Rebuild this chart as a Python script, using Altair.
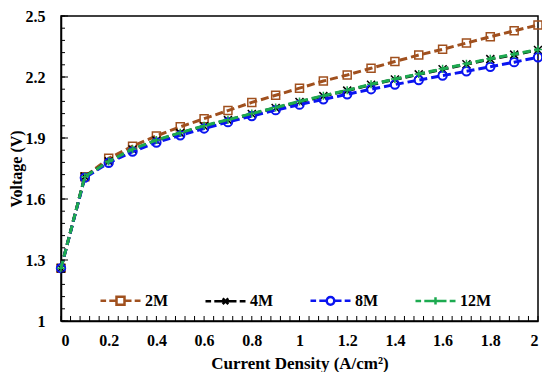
import altair as alt
import pandas as pd

# ---- data ----
current = [0.0, 0.1, 0.2, 0.3, 0.4, 0.5, 0.6, 0.7, 0.8, 0.9, 1.0,
           1.1, 1.2, 1.3, 1.4, 1.5, 1.6, 1.7, 1.8, 1.9, 2.0]
v_2m = [1.26, 1.71, 1.80, 1.86, 1.91, 1.955, 1.995, 2.035, 2.075, 2.11, 2.145,
        2.18, 2.21, 2.243, 2.276, 2.308, 2.336, 2.367, 2.398, 2.427, 2.456]
v_4m = [1.26, 1.71, 1.785, 1.843, 1.888, 1.924, 1.958, 1.988, 2.018, 2.048, 2.077,
        2.106, 2.133, 2.162, 2.188, 2.213, 2.238, 2.263, 2.288, 2.31, 2.333]
v_8m = [1.26, 1.705, 1.778, 1.833, 1.878, 1.913, 1.947, 1.978, 2.008, 2.037, 2.064,
        2.09, 2.115, 2.14, 2.163, 2.185, 2.207, 2.228, 2.25, 2.273, 2.297]
v_12m = [1.26, 1.71, 1.785, 1.845, 1.89, 1.926, 1.96, 1.99, 2.02, 2.05, 2.08,
         2.108, 2.135, 2.164, 2.19, 2.215, 2.24, 2.265, 2.29, 2.312, 2.335]

series = ["2M", "4M", "8M", "12M"]
colors = ["#A0501E", "#000000", "#0A14F0", "#1DAA50"]
values_by_series = [v_2m, v_4m, v_8m, v_12m]

x_major = [0, 0.2, 0.4, 0.6, 0.8, 1.0, 1.2, 1.4, 1.6, 1.8, 2.0]
y_major = [1.0, 1.3, 1.6, 1.9, 2.2, 2.5]
x_minor = [round(i * 0.04, 2) for i in range(51)]
y_minor = [round(1 + i * 0.06, 2) for i in range(26)]

rows = []
for s, vals in zip(series, values_by_series):
    for j, v in zip(current, vals):
        rows.append({"series": s, "j": j, "v": v})
df = pd.DataFrame(rows)

W, H = 477, 305
FONT = "Liberation Serif"
X0, X1, Y0, Y1 = 0, 2, 1, 2.5

point_shapes = {
    "2M": "square",
    "4M": "M-1,-1L1,1M-1,1L1,-1",
    "8M": "circle",
    "12M": "M-1,0L1,0M0,-1L0,1",
}
dash = "M-1,0H-0.72M-0.56,0H-0.25M0.25,0H0.55M0.71,0H1"
legend_paths = [
    dash + "M-0.2,-0.2H0.2V0.2H-0.2Z",
    dash + "M-0.25,0H0.25M-0.14,-0.14L0.14,0.14M-0.14,0.14L0.14,-0.14",
    dash + "M-0.25,0H-0.19M0.19,0H0.25M0.19,0A0.19,0.19,0,1,1,-0.19,0A0.19,0.19,0,1,1,0.19,0",
    dash + "M-0.25,0H0.25M0,-0.18V0.18",
]

xscale = alt.Scale(domain=[X0, X1], nice=False, zero=False)
yscale = alt.Scale(domain=[Y0, Y1], nice=False, zero=False)

axis_x = alt.Axis(orient="bottom", values=x_major, format=".1~f", ticks=False,
                  grid=False, labelPadding=11, labelFontSize=16,
                  title="Current Density (A/cm²)", titleFontSize=17,
                  titlePadding=7, domainColor="black", domainWidth=1.5)
axis_y = alt.Axis(orient="left", values=y_major, format=".1~f", ticks=False,
                  grid=False, labelPadding=16, labelFontSize=16,
                  title="Voltage (V)", titleFontSize=16,
                  titlePadding=1, domainColor="black", domainWidth=1.5)

layers = []
base = alt.Chart(df)
for i, s in enumerate(series):
    line = base.transform_filter(alt.datum.series == s).mark_line(
        strokeWidth=3, strokeDash=[8, 4], color=colors[i]
    ).encode(
        x=alt.X("j:Q", scale=xscale, axis=axis_x),
        y=alt.Y("v:Q", scale=yscale, axis=axis_y),
    )
    pts = base.transform_filter(alt.datum.series == s).mark_point(
        shape=point_shapes[s], filled=False, size=64 if s != "8M" else 70,
        strokeWidth=1.5 if s != "8M" else 2, opacity=1, color=colors[i]
    ).encode(
        x=alt.X("j:Q", scale=xscale, axis=axis_x),
        y=alt.Y("v:Q", scale=yscale, axis=axis_y),
    )
    layers += [line, pts]

# inward tick marks as one-sided line symbols anchored on the axis lines
xt_df = pd.DataFrame({"t": x_minor, "a": [Y0] * len(x_minor)})
ytm_df = pd.DataFrame({"t": y_minor, "a": [X0] * len(y_minor)})
ytM_df = pd.DataFrame({"t": y_major, "a": [X0] * len(y_major)})
layers.append(alt.Chart(xt_df).mark_point(
    shape="M0,0V-1", size=100, filled=False, color="black", strokeWidth=1, opacity=1
).encode(
    x=alt.X("t:Q", scale=xscale, axis=axis_x),
    y=alt.Y("a:Q", scale=yscale, axis=axis_y)))
layers.append(alt.Chart(ytm_df).mark_point(
    shape="M0,0H1", size=64, filled=False, color="black", strokeWidth=1, opacity=1
).encode(
    y=alt.Y("t:Q", scale=yscale, axis=axis_y),
    x=alt.X("a:Q", scale=xscale, axis=axis_x)))
layers.append(alt.Chart(ytM_df).mark_point(
    shape="M0,0H1", size=196, filled=False, color="black", strokeWidth=1, opacity=1
).encode(
    y=alt.Y("t:Q", scale=yscale, axis=axis_y),
    x=alt.X("a:Q", scale=xscale, axis=axis_x)))

leg = alt.Legend(title=None, orient="none", legendX=38, legendY=263,
                 direction="horizontal", columns=4, columnPadding=31,
                 symbolSize=1600, symbolStrokeWidth=2.5,
                 labelFont=FONT, labelFontSize=16,
                 labelFontWeight="bold", labelColor="black",
                 labelOffset=3, padding=0)

legend_layer = base.mark_point(filled=False, opacity=0).encode(
    x=alt.X("j:Q", scale=xscale, axis=axis_x),
    y=alt.Y("v:Q", scale=yscale, axis=axis_y),
    color=alt.Color("series:N", scale=alt.Scale(domain=series, range=colors), legend=leg),
    shape=alt.Shape("series:N", scale=alt.Scale(domain=series, range=legend_paths), legend=leg),
)
layers.append(legend_layer)

chart = alt.layer(*layers).properties(
    width=W, height=H,
    autosize=alt.AutoSizeParams(type="none"),
    padding={"left": 53, "top": 8, "right": 4, "bottom": 51},
).configure_view(stroke="black", strokeWidth=1.5).configure_axis(
    labelFont=FONT, labelFontWeight="bold", labelColor="black",
    titleFont=FONT, titleFontWeight="bold", titleColor="black",
).configure_legend(symbolOpacity=1)

chart.save("out.html", embed_options={"renderer": "svg", "actions": False})
